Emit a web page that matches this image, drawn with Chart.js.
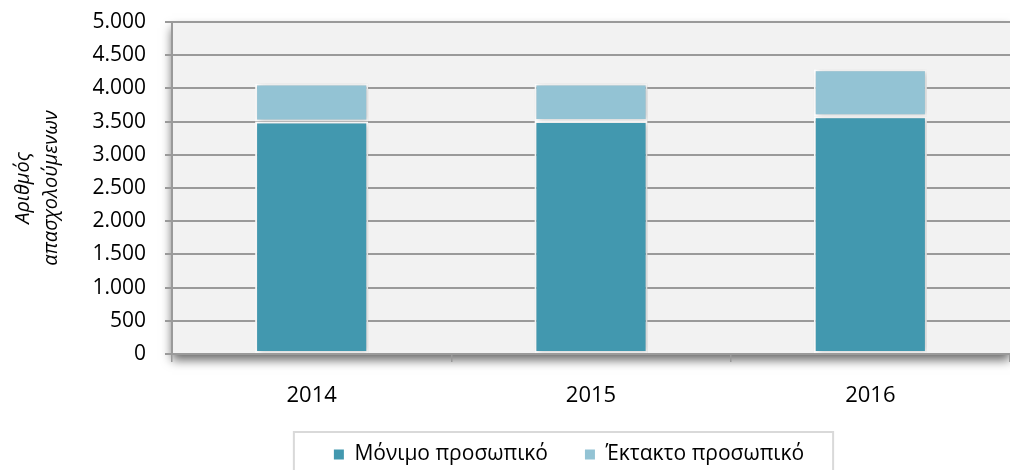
<!DOCTYPE html>
<html lang="el">
<head>
<meta charset="utf-8">
<title>Αριθμός απασχολούμενων</title>
<script src="https://cdn.jsdelivr.net/npm/chart.js@4"></script>
<style>
  html, body { margin: 0; padding: 0; background: #ffffff; }
  #wrap { width: 1010px; height: 470px; position: relative; }
</style>
</head>
<body>
<div id="wrap"><canvas id="staff-chart"></canvas></div>
<script>
// Données
const years = ['2014', '2015', '2016'];
const permanentStaff = [3500, 3510, 3580];
const temporaryStaff = [575, 565, 710];
const seriesNames = ['Μόνιμο προσωπικό', 'Έκτακτο προσωπικό'];
const yTitle = ['Αριθμός', 'απασχολούμενων'];

const DARK = '#4298af';
const LIGHT = '#93c3d4';
const GRID = '#9a9a9a';

// Format 5.000 (séparateur de milliers)
function formatThousands(value) {
    return String(value).replace(/\B(?=(\d{3})+(?!\d))/g, '.');
}

// Fond gris de la zone de tracé avec ombre portée
const plotBackground = {
    id: 'plotBackground',
    beforeDraw(chart) {
        const { ctx, chartArea } = chart;
        ctx.save();
        ctx.shadowColor = 'rgba(0, 0, 0, 0.6)';
        ctx.shadowBlur = 10;
        ctx.shadowOffsetY = 6;
        ctx.fillStyle = '#f2f2f2';
        ctx.fillRect(chartArea.left, chartArea.top, chartArea.right - chartArea.left, chartArea.bottom - chartArea.top);
        ctx.restore();
    },
    beforeDatasetsDraw(chart) {
        const ctx = chart.ctx;
        ctx.save();
        ctx.shadowColor = 'rgba(0, 0, 0, 0.22)';
        ctx.shadowBlur = 6;
        ctx.shadowOffsetX = 2;
        ctx.shadowOffsetY = 1;
    },
    afterDatasetsDraw(chart) {
        chart.ctx.restore();
    }
};

// Légende décalée vers la gauche + cadre autour
const legendFrame = {
    id: 'legendFrame',
    afterLayout(chart) {
        if (chart.legend) {
            chart.legend.left -= 22;
            chart.legend.right -= 22;
        }
    },
    afterDraw(chart) {
        const legend = chart.legend;
        if (!legend || !legend.legendHitBoxes || !legend.legendHitBoxes.length) return;
        const boxes = legend.legendHitBoxes;
        const first = boxes[0];
        const last = boxes[boxes.length - 1];
        const ctx = chart.ctx;
        ctx.save();
        ctx.strokeStyle = '#d9d9d9';
        ctx.lineWidth = 2;
        ctx.strokeRect(first.left - 40, first.top - 12, (last.left + last.width + 29) - (first.left - 40), 60);
        ctx.restore();
    }
};

const ctx = document.getElementById('staff-chart');

new Chart(ctx, {
    type: 'bar',
    data: {
        labels: years,
        datasets: [{
            label: seriesNames[0],
            data: permanentStaff,
            backgroundColor: DARK,
            borderColor: '#ffffff',
            borderWidth: 2,
            borderSkipped: false
        }, {
            label: seriesNames[1],
            data: temporaryStaff,
            backgroundColor: LIGHT,
            borderColor: '#ffffff',
            borderWidth: 2,
            borderSkipped: false
        }]
    },
    options: {
        responsive: true,
        maintainAspectRatio: false,
        animation: false,
        datasets: {
            bar: {
                barPercentage: 0.405,
                categoryPercentage: 1
            }
        },
        layout: {
            padding: { top: 22, right: 0, bottom: 0, left: 0 }
        },
        plugins: {
            legend: {
                position: 'bottom',
                fullSize: false,
                maxHeight: 63,
                labels: {
                    boxWidth: 10,
                    boxHeight: 10,
                    padding: 37,
                    color: '#000000',
                    font: { family: '"Open Sans", sans-serif', size: 21 },
                    generateLabels(chart) {
                        return chart.data.datasets.map((ds, i) => ({
                            text: ds.label,
                            fillStyle: ds.backgroundColor,
                            strokeStyle: ds.backgroundColor,
                            lineWidth: 0,
                            hidden: false,
                            datasetIndex: i,
                            fontColor: '#000000'
                        }));
                    }
                }
            },
            tooltip: { enabled: false }
        },
        scales: {
            x: {
                stacked: true,
                offset: true,
                afterFit(scale) { scale.height = 53; },
                grid: {
                    offset: true,
                    drawOnChartArea: false,
                    drawTicks: true,
                    tickLength: 8,
                    color: GRID,
                    lineWidth: 1.5
                },
                border: { color: GRID, width: 2 },
                ticks: {
                    padding: 21,
                    color: '#000000',
                    font: { family: '"Open Sans", sans-serif', size: 22 }
                }
            },
            y: {
                stacked: true,
                min: 0,
                max: 5000,
                afterFit(scale) {
                    scale.width = 172;
                    scale.paddingTop = 12;
                    scale.paddingBottom = 12;
                },
                title: {
                    display: true,
                    text: yTitle,
                    color: '#000000',
                    padding: { top: 9, bottom: 0 },
                    font: { family: '"Open Sans", sans-serif', size: 20, style: 'italic', lineHeight: 1.4 }
                },
                grid: {
                    color: GRID,
                    lineWidth: 2,
                    drawTicks: true,
                    tickLength: 7
                },
                border: { color: GRID, width: 2 },
                ticks: {
                    stepSize: 500,
                    padding: 19,
                    color: '#000000',
                    font: { family: '"Open Sans", sans-serif', size: 21 },
                    callback: function(value) {
                        return formatThousands(value);
                    }
                }
            }
        }
    },
    plugins: [plotBackground, legendFrame]
});
</script>
</body>
</html>
